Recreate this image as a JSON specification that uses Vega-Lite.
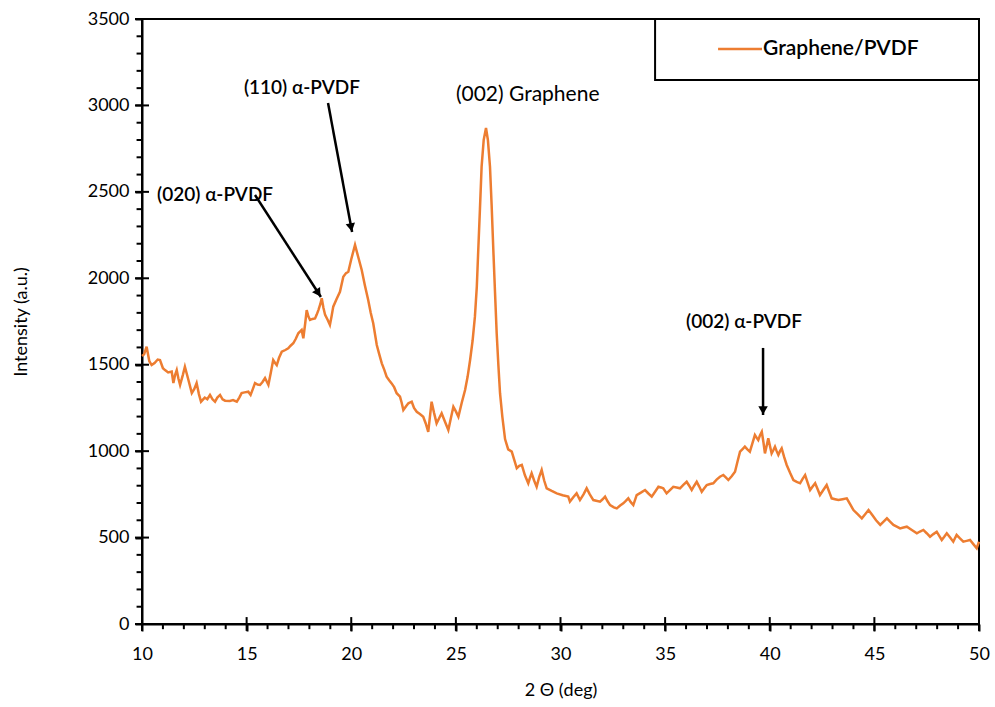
{
  "$schema": "https://vega.github.io/schema/vega-lite/v6.json",
  "width": 837,
  "height": 605,
  "autosize": {"type": "none"},
  "padding": {"left": 142, "top": 19, "right": 16, "bottom": 83},
  "background": "white",
  "config": {
    "font": "Lato",
    "view": {"stroke": "black", "strokeWidth": 2}
  },
  "datasets": {
    "xrd": [
      {"theta": 10.00, "intensity": 1550}, {"theta": 10.10, "intensity": 1560}, {"theta": 10.22, "intensity": 1604}, {"theta": 10.35, "intensity": 1520},
      {"theta": 10.46, "intensity": 1498}, {"theta": 10.60, "intensity": 1510}, {"theta": 10.75, "intensity": 1530}, {"theta": 10.86, "intensity": 1527},
      {"theta": 11.00, "intensity": 1480}, {"theta": 11.10, "intensity": 1469}, {"theta": 11.25, "intensity": 1455}, {"theta": 11.42, "intensity": 1460},
      {"theta": 11.50, "intensity": 1394}, {"theta": 11.58, "intensity": 1440}, {"theta": 11.66, "intensity": 1469}, {"theta": 11.74, "intensity": 1420},
      {"theta": 11.82, "intensity": 1383}, {"theta": 11.95, "intensity": 1440}, {"theta": 12.05, "intensity": 1488}, {"theta": 12.20, "intensity": 1420},
      {"theta": 12.38, "intensity": 1336}, {"theta": 12.50, "intensity": 1360}, {"theta": 12.61, "intensity": 1394}, {"theta": 12.72, "intensity": 1330},
      {"theta": 12.82, "intensity": 1286}, {"theta": 13.00, "intensity": 1310}, {"theta": 13.12, "intensity": 1300}, {"theta": 13.25, "intensity": 1325},
      {"theta": 13.37, "intensity": 1300}, {"theta": 13.49, "intensity": 1286}, {"theta": 13.60, "intensity": 1310}, {"theta": 13.73, "intensity": 1325},
      {"theta": 13.85, "intensity": 1300}, {"theta": 13.97, "intensity": 1292}, {"theta": 14.20, "intensity": 1290}, {"theta": 14.35, "intensity": 1295},
      {"theta": 14.53, "intensity": 1286}, {"theta": 14.65, "intensity": 1310}, {"theta": 14.76, "intensity": 1336}, {"theta": 14.90, "intensity": 1340},
      {"theta": 15.08, "intensity": 1344}, {"theta": 15.19, "intensity": 1325}, {"theta": 15.30, "intensity": 1360}, {"theta": 15.40, "intensity": 1394},
      {"theta": 15.52, "intensity": 1385}, {"theta": 15.64, "intensity": 1383}, {"theta": 15.76, "intensity": 1400}, {"theta": 15.88, "intensity": 1423},
      {"theta": 16.04, "intensity": 1383}, {"theta": 16.15, "intensity": 1450}, {"theta": 16.27, "intensity": 1527}, {"theta": 16.36, "intensity": 1510},
      {"theta": 16.44, "intensity": 1498}, {"theta": 16.55, "intensity": 1540}, {"theta": 16.68, "intensity": 1575}, {"theta": 16.85, "intensity": 1585},
      {"theta": 16.99, "intensity": 1595}, {"theta": 17.10, "intensity": 1610}, {"theta": 17.23, "intensity": 1624}, {"theta": 17.35, "intensity": 1650},
      {"theta": 17.47, "intensity": 1682}, {"theta": 17.63, "intensity": 1701}, {"theta": 17.71, "intensity": 1653}, {"theta": 17.80, "intensity": 1740},
      {"theta": 17.87, "intensity": 1816}, {"theta": 17.95, "intensity": 1780}, {"theta": 18.03, "intensity": 1759}, {"theta": 18.15, "intensity": 1765},
      {"theta": 18.27, "intensity": 1768}, {"theta": 18.35, "intensity": 1790}, {"theta": 18.43, "intensity": 1816}, {"theta": 18.52, "intensity": 1850},
      {"theta": 18.59, "intensity": 1884}, {"theta": 18.67, "intensity": 1830}, {"theta": 18.75, "intensity": 1788}, {"theta": 18.87, "intensity": 1760},
      {"theta": 18.98, "intensity": 1730}, {"theta": 19.06, "intensity": 1780}, {"theta": 19.14, "intensity": 1836}, {"theta": 19.30, "intensity": 1880},
      {"theta": 19.46, "intensity": 1922}, {"theta": 19.62, "intensity": 2009}, {"theta": 19.75, "intensity": 2030}, {"theta": 19.86, "intensity": 2038},
      {"theta": 20.00, "intensity": 2110}, {"theta": 20.18, "intensity": 2193}, {"theta": 20.34, "intensity": 2120}, {"theta": 20.50, "intensity": 2048},
      {"theta": 20.65, "intensity": 1960}, {"theta": 20.81, "intensity": 1874}, {"theta": 20.93, "intensity": 1800}, {"theta": 21.05, "intensity": 1740},
      {"theta": 21.22, "intensity": 1614}, {"theta": 21.34, "intensity": 1560}, {"theta": 21.46, "intensity": 1508}, {"theta": 21.58, "intensity": 1470},
      {"theta": 21.69, "intensity": 1431}, {"theta": 21.81, "intensity": 1410}, {"theta": 21.93, "intensity": 1392}, {"theta": 22.05, "intensity": 1370},
      {"theta": 22.17, "intensity": 1335}, {"theta": 22.33, "intensity": 1315}, {"theta": 22.41, "intensity": 1280}, {"theta": 22.49, "intensity": 1238},
      {"theta": 22.62, "intensity": 1260}, {"theta": 22.73, "intensity": 1277}, {"theta": 22.89, "intensity": 1286}, {"theta": 23.00, "intensity": 1250},
      {"theta": 23.13, "intensity": 1228}, {"theta": 23.28, "intensity": 1215}, {"theta": 23.44, "intensity": 1199}, {"theta": 23.56, "intensity": 1160},
      {"theta": 23.68, "intensity": 1112}, {"theta": 23.84, "intensity": 1286}, {"theta": 23.96, "intensity": 1220}, {"theta": 24.08, "intensity": 1161},
      {"theta": 24.20, "intensity": 1190}, {"theta": 24.32, "intensity": 1219}, {"theta": 24.48, "intensity": 1170}, {"theta": 24.64, "intensity": 1122},
      {"theta": 24.76, "intensity": 1190}, {"theta": 24.88, "intensity": 1257}, {"theta": 25.00, "intensity": 1230}, {"theta": 25.12, "intensity": 1199},
      {"theta": 25.28, "intensity": 1280}, {"theta": 25.44, "intensity": 1354}, {"theta": 25.56, "intensity": 1430}, {"theta": 25.68, "intensity": 1527},
      {"theta": 25.80, "intensity": 1640}, {"theta": 25.91, "intensity": 1778}, {"theta": 26.00, "intensity": 1950}, {"theta": 26.07, "intensity": 2164},
      {"theta": 26.15, "intensity": 2400}, {"theta": 26.23, "intensity": 2646}, {"theta": 26.33, "intensity": 2800}, {"theta": 26.44, "intensity": 2870},
      {"theta": 26.53, "intensity": 2800}, {"theta": 26.63, "intensity": 2646}, {"theta": 26.71, "intensity": 2420}, {"theta": 26.79, "intensity": 2164},
      {"theta": 26.87, "intensity": 1920}, {"theta": 26.95, "intensity": 1682}, {"theta": 27.03, "intensity": 1500}, {"theta": 27.11, "intensity": 1335},
      {"theta": 27.22, "intensity": 1200}, {"theta": 27.35, "intensity": 1070}, {"theta": 27.50, "intensity": 1010}, {"theta": 27.67, "intensity": 997},
      {"theta": 27.79, "intensity": 950}, {"theta": 27.91, "intensity": 901}, {"theta": 28.03, "intensity": 915}, {"theta": 28.15, "intensity": 920},
      {"theta": 28.30, "intensity": 860}, {"theta": 28.46, "intensity": 814}, {"theta": 28.54, "intensity": 845}, {"theta": 28.62, "intensity": 872},
      {"theta": 28.74, "intensity": 830}, {"theta": 28.86, "intensity": 794}, {"theta": 28.98, "intensity": 850}, {"theta": 29.10, "intensity": 891},
      {"theta": 29.22, "intensity": 830}, {"theta": 29.34, "intensity": 785}, {"theta": 29.58, "intensity": 770}, {"theta": 29.82, "intensity": 756},
      {"theta": 30.10, "intensity": 745}, {"theta": 30.37, "intensity": 737}, {"theta": 30.45, "intensity": 708}, {"theta": 30.62, "intensity": 735},
      {"theta": 30.77, "intensity": 756}, {"theta": 30.93, "intensity": 717}, {"theta": 31.10, "intensity": 750}, {"theta": 31.25, "intensity": 785},
      {"theta": 31.40, "intensity": 750}, {"theta": 31.57, "intensity": 717}, {"theta": 31.89, "intensity": 708}, {"theta": 32.00, "intensity": 720},
      {"theta": 32.13, "intensity": 737}, {"theta": 32.25, "intensity": 710}, {"theta": 32.37, "intensity": 688}, {"theta": 32.55, "intensity": 675},
      {"theta": 32.69, "intensity": 669}, {"theta": 32.85, "intensity": 685}, {"theta": 33.00, "intensity": 698}, {"theta": 33.12, "intensity": 712},
      {"theta": 33.24, "intensity": 727}, {"theta": 33.36, "intensity": 705}, {"theta": 33.48, "intensity": 688}, {"theta": 33.64, "intensity": 746},
      {"theta": 33.84, "intensity": 760}, {"theta": 34.04, "intensity": 775}, {"theta": 34.20, "intensity": 755}, {"theta": 34.36, "intensity": 737},
      {"theta": 34.52, "intensity": 765}, {"theta": 34.68, "intensity": 794}, {"theta": 34.80, "intensity": 790}, {"theta": 34.91, "intensity": 785},
      {"theta": 35.07, "intensity": 756}, {"theta": 35.23, "intensity": 775}, {"theta": 35.39, "intensity": 794}, {"theta": 35.55, "intensity": 790},
      {"theta": 35.71, "intensity": 785}, {"theta": 35.87, "intensity": 805}, {"theta": 36.03, "intensity": 823}, {"theta": 36.15, "intensity": 800},
      {"theta": 36.27, "intensity": 775}, {"theta": 36.39, "intensity": 800}, {"theta": 36.51, "intensity": 823}, {"theta": 36.63, "intensity": 795},
      {"theta": 36.75, "intensity": 765}, {"theta": 36.87, "intensity": 785}, {"theta": 36.99, "intensity": 804}, {"theta": 37.15, "intensity": 810},
      {"theta": 37.30, "intensity": 814}, {"theta": 37.46, "intensity": 835}, {"theta": 37.62, "intensity": 852}, {"theta": 37.78, "intensity": 862},
      {"theta": 37.90, "intensity": 848}, {"theta": 38.02, "intensity": 833}, {"theta": 38.18, "intensity": 855}, {"theta": 38.34, "intensity": 881},
      {"theta": 38.46, "intensity": 940}, {"theta": 38.58, "intensity": 997}, {"theta": 38.70, "intensity": 1012}, {"theta": 38.81, "intensity": 1026},
      {"theta": 38.93, "intensity": 1010}, {"theta": 39.05, "intensity": 997}, {"theta": 39.17, "intensity": 1045}, {"theta": 39.29, "intensity": 1093},
      {"theta": 39.37, "intensity": 1078}, {"theta": 39.45, "intensity": 1064}, {"theta": 39.53, "intensity": 1090}, {"theta": 39.62, "intensity": 1112},
      {"theta": 39.70, "intensity": 1050}, {"theta": 39.77, "intensity": 987}, {"theta": 39.85, "intensity": 1030}, {"theta": 39.93, "intensity": 1074},
      {"theta": 40.01, "intensity": 1030}, {"theta": 40.09, "intensity": 987}, {"theta": 40.17, "intensity": 1005}, {"theta": 40.25, "intensity": 1026},
      {"theta": 40.33, "intensity": 1000}, {"theta": 40.41, "intensity": 978}, {"theta": 40.49, "intensity": 1000}, {"theta": 40.57, "intensity": 1016},
      {"theta": 40.69, "intensity": 965}, {"theta": 40.81, "intensity": 920}, {"theta": 40.97, "intensity": 875}, {"theta": 41.13, "intensity": 833},
      {"theta": 41.29, "intensity": 822}, {"theta": 41.45, "intensity": 814}, {"theta": 41.57, "intensity": 840}, {"theta": 41.69, "intensity": 862},
      {"theta": 41.81, "intensity": 818}, {"theta": 41.93, "intensity": 775}, {"theta": 42.05, "intensity": 795}, {"theta": 42.17, "intensity": 814},
      {"theta": 42.29, "intensity": 780}, {"theta": 42.40, "intensity": 746}, {"theta": 42.56, "intensity": 775}, {"theta": 42.72, "intensity": 804},
      {"theta": 42.84, "intensity": 765}, {"theta": 42.96, "intensity": 727}, {"theta": 43.12, "intensity": 722}, {"theta": 43.28, "intensity": 717},
      {"theta": 43.48, "intensity": 722}, {"theta": 43.68, "intensity": 727}, {"theta": 43.84, "intensity": 693}, {"theta": 44.00, "intensity": 659},
      {"theta": 44.20, "intensity": 635}, {"theta": 44.40, "intensity": 611}, {"theta": 44.56, "intensity": 635}, {"theta": 44.72, "intensity": 659},
      {"theta": 44.90, "intensity": 630}, {"theta": 45.08, "intensity": 600}, {"theta": 45.28, "intensity": 573}, {"theta": 45.44, "intensity": 592},
      {"theta": 45.60, "intensity": 611}, {"theta": 45.75, "intensity": 592}, {"theta": 45.91, "intensity": 573}, {"theta": 46.07, "intensity": 563},
      {"theta": 46.23, "intensity": 553}, {"theta": 46.39, "intensity": 558}, {"theta": 46.55, "intensity": 563}, {"theta": 46.79, "intensity": 544},
      {"theta": 47.03, "intensity": 525}, {"theta": 47.18, "intensity": 535}, {"theta": 47.34, "intensity": 544}, {"theta": 47.50, "intensity": 525},
      {"theta": 47.66, "intensity": 505}, {"theta": 47.82, "intensity": 520}, {"theta": 47.98, "intensity": 534}, {"theta": 48.10, "intensity": 510},
      {"theta": 48.22, "intensity": 486}, {"theta": 48.34, "intensity": 505}, {"theta": 48.46, "intensity": 525}, {"theta": 48.62, "intensity": 500},
      {"theta": 48.77, "intensity": 476}, {"theta": 48.85, "intensity": 496}, {"theta": 48.93, "intensity": 515}, {"theta": 49.09, "intensity": 495},
      {"theta": 49.25, "intensity": 476}, {"theta": 49.41, "intensity": 481}, {"theta": 49.57, "intensity": 486}, {"theta": 49.73, "intensity": 462},
      {"theta": 49.89, "intensity": 438}, {"theta": 50.00, "intensity": 476}
    ],
    "arrows": [
      {"label": "(020)", "x": 15.40, "y": 2482, "x2": 18.55, "y2": 1892, "hx": 18.39, "hy": 1921, "angle": 147},
      {"label": "(110)", "x": 18.89, "y": 3014, "x2": 20.04, "y2": 2268, "hx": 19.98, "hy": 2302, "angle": 169.5},
      {"label": "(002)a", "x": 39.68, "y": 1597, "x2": 39.68, "y2": 1209, "hx": 39.68, "hy": 1244, "angle": 180}
    ],
    "labels": [
      {"text": "(020) α-PVDF", "x": 10.72, "y": 2482},
      {"text": "(110) α-PVDF", "x": 14.87, "y": 3101},
      {"text": "(002) α-PVDF", "x": 36.0, "y": 1747}
    ],
    "labels2": [
      {"text": "(002) Graphene", "x": 25.0, "y": 3060}
    ],
    "legendbox": [{"x": 34.52, "x2": 50, "y": 3147, "y2": 3500}],
    "legendline": [{"x": 37.53, "x2": 39.63, "y": 3326, "series": "Graphene/PVDF"}],
    "xmajor": [{"v": 10}, {"v": 15}, {"v": 20}, {"v": 25}, {"v": 30}, {"v": 35}, {"v": 40}, {"v": 45}, {"v": 50}],
    "xminor": [{"v": 11}, {"v": 12}, {"v": 13}, {"v": 14}, {"v": 16}, {"v": 17}, {"v": 18}, {"v": 19}, {"v": 21}, {"v": 22}, {"v": 23}, {"v": 24},
      {"v": 26}, {"v": 27}, {"v": 28}, {"v": 29}, {"v": 31}, {"v": 32}, {"v": 33}, {"v": 34}, {"v": 36}, {"v": 37}, {"v": 38}, {"v": 39},
      {"v": 41}, {"v": 42}, {"v": 43}, {"v": 44}, {"v": 46}, {"v": 47}, {"v": 48}, {"v": 49}],
    "ymajor": [{"v": 0}, {"v": 500}, {"v": 1000}, {"v": 1500}, {"v": 2000}, {"v": 2500}, {"v": 3000}, {"v": 3500}],
    "yminor": [{"v": 100}, {"v": 200}, {"v": 300}, {"v": 400}, {"v": 600}, {"v": 700}, {"v": 800}, {"v": 900}, {"v": 1100}, {"v": 1200}, {"v": 1300}, {"v": 1400},
      {"v": 1600}, {"v": 1700}, {"v": 1800}, {"v": 1900}, {"v": 2100}, {"v": 2200}, {"v": 2300}, {"v": 2400}, {"v": 2600}, {"v": 2700}, {"v": 2800}, {"v": 2900},
      {"v": 3100}, {"v": 3200}, {"v": 3300}, {"v": 3400}]
  },
  "layer": [
    {
      "data": {"name": "xrd"},
      "mark": {"type": "line", "color": "#ED7D31", "strokeWidth": 2.5},
      "encoding": {
        "x": {"field": "theta", "type": "quantitative", "scale": {"domain": [10, 50], "nice": false},
          "axis": {"orient": "bottom", "title": "2 Θ (deg)", "values": [10, 15, 20, 25, 30, 35, 40, 45, 50], "format": "d",
            "grid": false, "ticks": true, "tickSize": 7, "tickWidth": 2, "tickColor": "#000000", "domain": true, "domainColor": "black", "domainWidth": 2,
            "labelFont": "Lato", "labelFontSize": 18, "labelColor": "black", "labelPadding": 14, "labelFlush": false,
            "titleFont": "Lato", "titleFontSize": 18, "titleFontWeight": "normal", "titleColor": "black", "titlePadding": 18}},
        "y": {"field": "intensity", "type": "quantitative", "scale": {"domain": [0, 3500], "nice": false, "zero": true},
          "axis": {"orient": "left", "title": "Intensity (a.u.)", "values": [0, 500, 1000, 1500, 2000, 2500, 3000, 3500], "format": "d",
            "grid": false, "ticks": true, "tickSize": 7, "tickWidth": 2, "tickColor": "#000000", "domain": true, "domainColor": "black", "domainWidth": 2,
            "labelFont": "Lato", "labelFontSize": 18, "labelColor": "black", "labelPadding": 6, "labelFlush": false,
            "titleFont": "Lato", "titleFontSize": 18, "titleFontWeight": "normal", "titleColor": "black", "titlePadding": 57}}
      }
    },
    {
      "data": {"name": "xmajor"},
      "mark": {"type": "rule", "color": "black", "strokeWidth": 2},
      "encoding": {
        "x": {"field": "v", "type": "quantitative"},
        "y": {"datum": -40, "type": "quantitative"},
        "y2": {"datum": 40}
      }
    },
    {
      "data": {"name": "xminor"},
      "mark": {"type": "rule", "color": "black", "strokeWidth": 2},
      "encoding": {
        "x": {"field": "v", "type": "quantitative"},
        "y": {"datum": -30, "type": "quantitative"},
        "y2": {"datum": 0}
      }
    },
    {
      "data": {"name": "ymajor"},
      "mark": {"type": "rule", "color": "black", "strokeWidth": 2},
      "encoding": {
        "y": {"field": "v", "type": "quantitative"},
        "x": {"datum": 9.665, "type": "quantitative"},
        "x2": {"datum": 10.335}
      }
    },
    {
      "data": {"name": "yminor"},
      "mark": {"type": "rule", "color": "black", "strokeWidth": 2},
      "encoding": {
        "y": {"field": "v", "type": "quantitative"},
        "x": {"datum": 9.74, "type": "quantitative"},
        "x2": {"datum": 10}
      }
    },
    {
      "data": {"name": "arrows"},
      "mark": {"type": "rule", "color": "black", "strokeWidth": 2.5},
      "encoding": {
        "x": {"field": "x", "type": "quantitative"},
        "y": {"field": "y", "type": "quantitative"},
        "x2": {"field": "x2"},
        "y2": {"field": "y2"}
      }
    },
    {
      "data": {"name": "arrows"},
      "mark": {"type": "point", "shape": "triangle", "filled": true, "color": "black", "size": 90, "opacity": 1},
      "encoding": {
        "x": {"field": "hx", "type": "quantitative"},
        "y": {"field": "hy", "type": "quantitative"},
        "angle": {"field": "angle", "type": "quantitative", "scale": null}
      }
    },
    {
      "data": {"name": "labels"},
      "mark": {"type": "text", "align": "left", "baseline": "middle", "fontSize": 19, "fontWeight": 600, "color": "black", "font": "Lato"},
      "encoding": {
        "x": {"field": "x", "type": "quantitative"},
        "y": {"field": "y", "type": "quantitative"},
        "text": {"field": "text"}
      }
    },
    {
      "data": {"name": "labels2"},
      "mark": {"type": "text", "align": "left", "baseline": "middle", "fontSize": 21, "fontWeight": "normal", "color": "black", "font": "Lato"},
      "encoding": {
        "x": {"field": "x", "type": "quantitative"},
        "y": {"field": "y", "type": "quantitative"},
        "text": {"field": "text"}
      }
    },
    {
      "data": {"name": "legendbox"},
      "mark": {"type": "rect", "fill": "white", "stroke": "black", "strokeWidth": 2},
      "encoding": {
        "x": {"field": "x", "type": "quantitative"},
        "x2": {"field": "x2"},
        "y": {"field": "y", "type": "quantitative"},
        "y2": {"field": "y2"}
      }
    },
    {
      "data": {"name": "legendline"},
      "mark": {"type": "rule", "color": "#ED7D31", "strokeWidth": 2.5},
      "encoding": {
        "x": {"field": "x", "type": "quantitative"},
        "x2": {"field": "x2"},
        "y": {"field": "y", "type": "quantitative"}
      }
    },
    {
      "data": {"name": "legendline"},
      "mark": {"type": "text", "align": "left", "baseline": "middle", "fontSize": 21, "fontWeight": 600, "color": "black", "font": "Lato", "dx": 1},
      "encoding": {
        "x": {"field": "x2", "type": "quantitative"},
        "y": {"field": "y", "type": "quantitative"},
        "text": {"field": "series"}
      }
    }
  ]
}
